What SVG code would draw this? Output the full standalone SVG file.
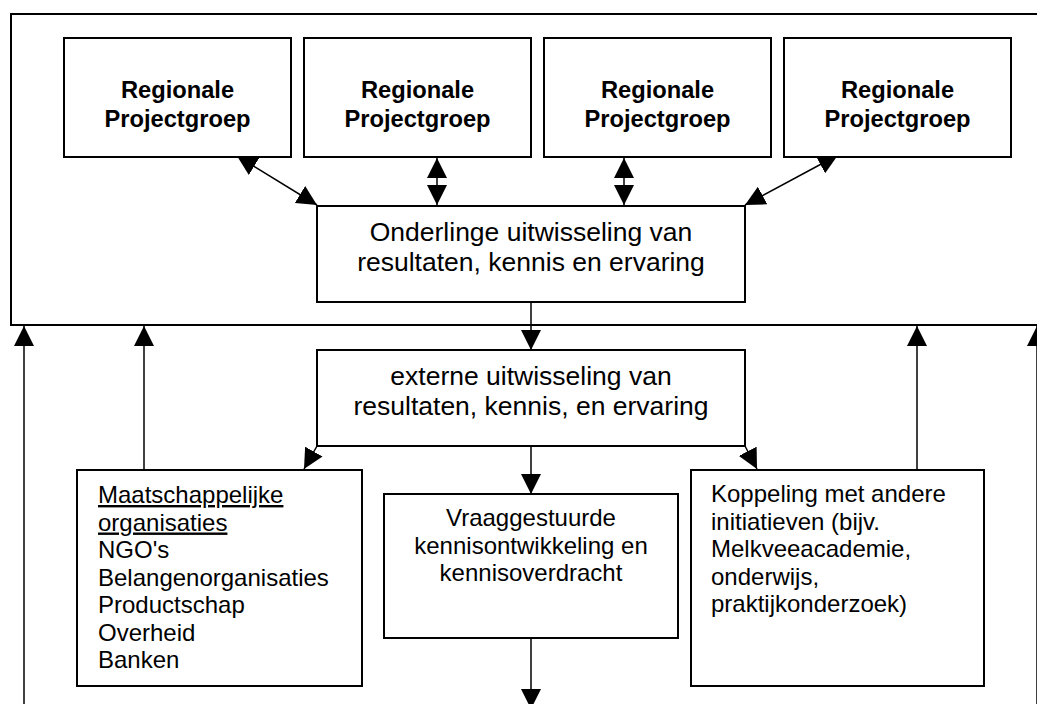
<svg xmlns="http://www.w3.org/2000/svg" width="1037" height="704" viewBox="0 0 1037 704">
<style>
  .box { fill: #fff; stroke: #000; stroke-width: 2; }
  .frame { fill: none; stroke: #000; stroke-width: 2; }
  .conn { fill: none; stroke: #000; stroke-width: 1.5; }
  .t { font-family: "Liberation Sans", Arial, sans-serif; fill: #000; }
  .bold { font-weight: bold; font-size: 23.7px; text-anchor: middle; }
  .big { font-size: 26.5px; text-anchor: middle; }
  .mid { font-size: 24px; text-anchor: middle; }
  .left { font-size: 24px; }
  .ul { text-decoration: underline; }
</style>
<defs>
  <marker id="ah" markerUnits="userSpaceOnUse" markerWidth="20" markerHeight="20" refX="20" refY="10" orient="auto-start-reverse" viewBox="0 0 20 20">
    <path d="M0,0 L20,10 L0,20 Z" fill="#000"/>
  </marker>
</defs>
<rect width="1037" height="704" fill="#fff"/>

<g id="frame">
  <rect class="frame" x="11" y="14" width="1050" height="311"/>
</g>

<g id="connectors">
  <line class="conn" x1="317" y1="205" x2="237" y2="156" marker-start="url(#ah)" marker-end="url(#ah)"/>
  <line class="conn" x1="437" y1="158" x2="437" y2="205" marker-start="url(#ah)" marker-end="url(#ah)"/>
  <line class="conn" x1="624" y1="158" x2="624" y2="205" marker-start="url(#ah)" marker-end="url(#ah)"/>
  <line class="conn" x1="745" y1="205" x2="838" y2="155" marker-start="url(#ah)" marker-end="url(#ah)"/>
  <line class="conn" x1="531" y1="302" x2="531" y2="350" marker-end="url(#ah)"/>
  <line class="conn" x1="531" y1="446" x2="531" y2="494" marker-end="url(#ah)"/>
  <line class="conn" x1="317" y1="446" x2="304" y2="469" marker-end="url(#ah)"/>
  <line class="conn" x1="745" y1="446" x2="757" y2="469" marker-end="url(#ah)"/>
  <line class="conn" x1="531" y1="638" x2="531" y2="709" marker-end="url(#ah)"/>
  <line class="conn" x1="24" y1="704" x2="24" y2="326" marker-end="url(#ah)"/>
  <line class="conn" x1="144" y1="470" x2="144" y2="326" marker-end="url(#ah)"/>
  <line class="conn" x1="917" y1="470" x2="917" y2="326" marker-end="url(#ah)"/>
  <line class="conn" x1="1037" y1="704" x2="1037" y2="326" marker-end="url(#ah)"/>
</g>

<g id="rp1">
  <rect class="box" x="64" y="38" width="227" height="119"/>
  <text class="t bold" x="177.5" y="98">Regionale</text>
  <text class="t bold" x="177.5" y="126.5">Projectgroep</text>
</g>
<g id="rp2">
  <rect class="box" x="304" y="38" width="227" height="119"/>
  <text class="t bold" x="417.5" y="98">Regionale</text>
  <text class="t bold" x="417.5" y="126.5">Projectgroep</text>
</g>
<g id="rp3">
  <rect class="box" x="544" y="38" width="227" height="119"/>
  <text class="t bold" x="657.5" y="98">Regionale</text>
  <text class="t bold" x="657.5" y="126.5">Projectgroep</text>
</g>
<g id="rp4">
  <rect class="box" x="784" y="38" width="227" height="119"/>
  <text class="t bold" x="897.5" y="98">Regionale</text>
  <text class="t bold" x="897.5" y="126.5">Projectgroep</text>
</g>

<g id="onderlinge">
  <rect class="box" x="317" y="206" width="428" height="96"/>
  <text class="t big" x="531" y="241">Onderlinge uitwisseling van</text>
  <text class="t big" x="531" y="270.5">resultaten, kennis en ervaring</text>
</g>

<g id="externe">
  <rect class="box" x="317" y="350" width="428" height="96"/>
  <text class="t big" x="531" y="385">externe uitwisseling van</text>
  <text class="t big" x="531" y="414.5">resultaten, kennis, en ervaring</text>
</g>

<g id="maatschappelijk">
  <rect class="box" x="77" y="470" width="285" height="216"/>
  <text class="t left" x="98" y="503"><tspan class="ul">Maatschappelijke</tspan></text>
  <text class="t left" x="98" y="530.5"><tspan class="ul">organisaties</tspan></text>
  <text class="t left" x="98" y="558">NGO's</text>
  <text class="t left" x="98" y="585.5">Belangenorganisaties</text>
  <text class="t left" x="98" y="613">Productschap</text>
  <text class="t left" x="98" y="640.5">Overheid</text>
  <text class="t left" x="98" y="668">Banken</text>
</g>

<g id="vraag">
  <rect class="box" x="384" y="494" width="294" height="144"/>
  <text class="t mid" x="531" y="526">Vraaggestuurde</text>
  <text class="t mid" x="531" y="553.5">kennisontwikkeling en</text>
  <text class="t mid" x="531" y="581">kennisoverdracht</text>
</g>

<g id="koppeling">
  <rect class="box" x="691" y="470" width="293" height="216"/>
  <text class="t left" x="711" y="502">Koppeling met andere</text>
  <text class="t left" x="711" y="529.5">initiatieven (bijv.</text>
  <text class="t left" x="711" y="557">Melkveeacademie,</text>
  <text class="t left" x="711" y="584.5">onderwijs,</text>
  <text class="t left" x="711" y="612">praktijkonderzoek)</text>
</g>
</svg>
